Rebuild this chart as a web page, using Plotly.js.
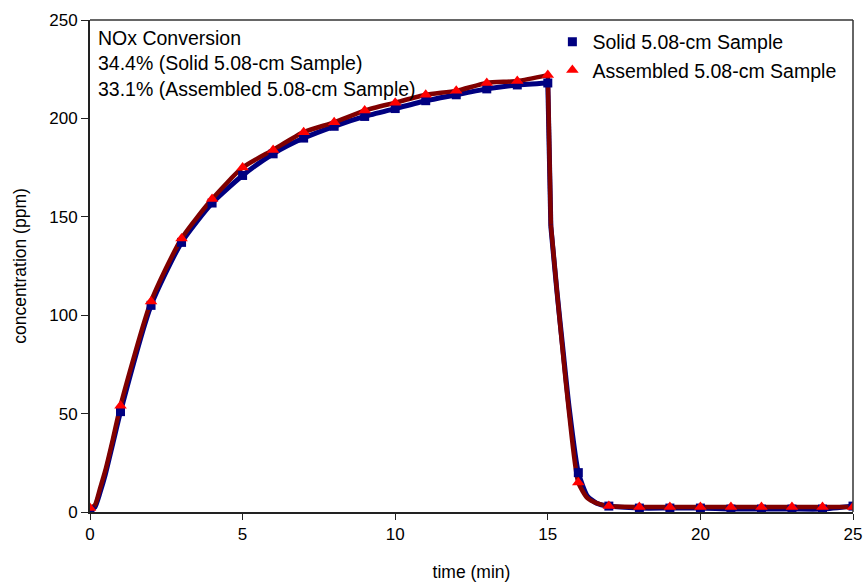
<!DOCTYPE html>
<html>
<head>
<meta charset="utf-8">
<script src="https://cdn.plot.ly/plotly-3.0.1.min.js"></script>
<style>html,body{margin:0;padding:0;background:#fff;}#chart{width:867px;height:582px;}</style>
</head>
<body>
<div id="chart"></div>
<script>
// Marker values (read at whole minutes)
const minutes = [0,1,2,3,4,5,6,7,8,9,10,11,12,13,14,15,16,17,18,19,20,21,22,23,24,25];
const solidVals = [1,51,105,137,157,171,182,190,196,201,205,209,212,215,217,218,20,3,2,2,2,1.5,1.5,1.5,1.5,3];
const assembledVals = [2,54,107,139,159,175,184,193,198,204,208,212,214,218,219,222,15,3,2.5,2.5,2.5,2.5,2.5,2.5,2.5,2.5];

// Continuous curves, in three pieces: rise, step, decay
const solidRiseT = [0,0.16,0.33,0.5,0.75,1,2,3,4,5,6,7,8,9,10,11,12,13,14,15];
const solidRiseV = [1,2.5,10,19,35,51,105,137,157,171,182,190,196,201,205,209,212,215,217,218];
const solidStepT = [15,15.1];
const solidStepV = [218,145];
const solidDecayT = [15.1,15.3,15.5,15.7,16,16.3,16.6,17,18,19,20,21,22,23,24,25];
const solidDecayV = [145,112,82,53,20,8,4.5,3,2,2,2,1.5,1.5,1.5,1.5,3];

const assembledRiseT = [0,0.16,0.33,0.5,0.75,1,2,3,4,5,6,7,8,9,10,11,12,13,14,15];
const assembledRiseV = [2,3.5,12,21,37,54,107,139,159,175,184,193,198,204,208,212,214,218,219,222];
const assembledStepT = [15,15.1];
const assembledStepV = [222,146];
const assembledDecayT = [15.1,15.3,15.5,15.7,16,16.3,16.6,17,18,19,20,21,22,23,24,25];
const assembledDecayV = [146,112,80,50,15,7,4.5,3,2.5,2.5,2.5,2.5,2.5,2.5,2.5,2.5];

const seriesNames = ['Solid 5.08-cm Sample', 'Assembled 5.08-cm Sample'];
const noteLines = ['NOx Conversion', '34.4% (Solid 5.08-cm Sample)', '33.1% (Assembled 5.08-cm Sample)'];

const font = 'Liberation Sans, Arial, sans-serif';
const navy = '#000080', maroon = '#800000';

function seg(x, y, color, width, shape) {
  return {x: x, y: y, mode: 'lines', line: {color: color, width: width, shape: shape, smoothing: 0.6}, showlegend: false, hoverinfo: 'skip'};
}

const traces = [
  seg(solidRiseT, solidRiseV, navy, 5, 'spline'),
  seg(solidStepT, solidStepV, navy, 5, 'linear'),
  seg(solidDecayT, solidDecayV, navy, 5, 'spline'),
  seg(assembledRiseT, assembledRiseV, maroon, 4.5, 'spline'),
  seg(assembledStepT, assembledStepV, maroon, 4.5, 'linear'),
  seg(assembledDecayT, assembledDecayV, maroon, 4.5, 'spline'),
  {x: minutes, y: solidVals, mode: 'markers', name: seriesNames[0], marker: {symbol: 'square', color: navy, size: 9}},
  {x: minutes, y: assembledVals, mode: 'markers', name: seriesNames[1], marker: {symbol: 'triangle-up', color: '#FF0000', size: 11}}
];

const layout = {
  width: 867, height: 582,
  margin: {l: 90, r: 14, t: 20, b: 70},
  paper_bgcolor: '#fff', plot_bgcolor: '#fff',
  font: {family: font, size: 17, color: '#000'},
  showlegend: true,
  legend: {x: 0.606, y: 0.995, xanchor: 'left', yanchor: 'top', bgcolor: 'rgba(0,0,0,0)', font: {family: font, size: 19.5}, tracegroupgap: 0, itemsizing: 'trace', itemwidth: 30},
  xaxis: {
    range: [0, 25], dtick: 5, tick0: 0,
    showgrid: false, zeroline: false,
    showline: true, linecolor: '#222', linewidth: 2,
    ticks: 'outside', ticklen: 6, tickcolor: '#222', tickwidth: 1,
    tickfont: {family: font, size: 17},
    title: {text: 'time (min)', font: {family: font, size: 17.5}, standoff: 22}
  },
  yaxis: {
    range: [0, 250], dtick: 50, tick0: 0,
    showgrid: false, zeroline: false,
    showline: true, linecolor: '#222', linewidth: 2,
    ticks: 'outside', ticklen: 7, tickcolor: '#222', tickwidth: 1,
    tickfont: {family: font, size: 17},
    title: {text: 'concentration (ppm)', font: {family: font, size: 17.5}, standoff: 18}
  },
  shapes: [
    {type: 'line', xref: 'paper', yref: 'paper', x0: 0, x1: 1, y0: 1, y1: 1, line: {color: '#333', width: 1.5}},
    {type: 'line', xref: 'paper', yref: 'paper', x0: 1, x1: 1, y0: 0, y1: 1, line: {color: '#333', width: 1.5}}
  ],
  annotations: [{
    xref: 'paper', yref: 'paper', x: 0.008, y: 0.99, xanchor: 'left', yanchor: 'top',
    align: 'left', showarrow: false,
    text: noteLines.join('<br>'),
    font: {family: font, size: 19.5, color: '#000'}
  }]
};

Plotly.newPlot('chart', traces, layout, {displayModeBar: false, staticPlot: true});
</script>
</body>
</html>
